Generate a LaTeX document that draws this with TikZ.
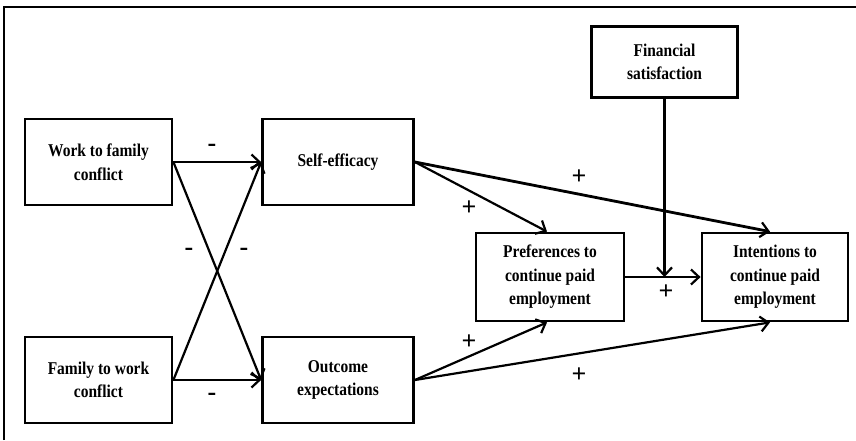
\documentclass[tikz,border=0pt]{standalone}
\usepackage{fontspec}
\setmainfont{Liberation Serif}
\newfontfamily\boxfont[FakeStretch=0.86]{Liberation Serif}
\usetikzlibrary{arrows.meta,calc}
\begin{document}
\begin{tikzpicture}[x=1pt,y=-1pt,
  box/.style={draw,line width=2.8pt,inner sep=0pt,align=center,font=\boxfont\fontsize{18}{23.5}\selectfont\bfseries},
  link/.style={line width=2.2pt,-{Straight Barb[length=8pt,width=15pt,line width=2.2pt]}},
  sign/.style={font=\fontsize{26}{26}\selectfont\bfseries,inner sep=0pt}]
\useasboundingbox (0,0) rectangle (856,440);
\coordinate (ftl) at (4,7);
\coordinate (ftr) at (856,7);
\coordinate (fbl) at (4,440);
\draw[line width=2.4pt] (fbl) -- (ftl) -- (ftr);
\node[box,minimum width=147pt,minimum height=86pt] (work) at (98.5,162) {Work to family\\conflict};
\node[box,minimum width=151pt,minimum height=86pt] (self) at (338,162) {Self-efficacy};
\node[box,minimum width=147pt,minimum height=86pt] (fam) at (98.5,380) {Family to work\\conflict};
\node[box,minimum width=151pt,minimum height=86pt] (out) at (338,380) {Outcome\\expectations};
\node[box,minimum width=146pt,minimum height=71pt] (fin) at (664.5,62) {Financial\\satisfaction};
\node[box,minimum width=148pt,minimum height=88pt] (pref) at (550,277) {Preferences to\\continue paid\\employment};
\node[box,minimum width=146pt,minimum height=88pt] (int) at (775,277) {Intentions to\\continue paid\\employment};
\draw[link] (work.east) -- (self.west);
\draw[link] (work.east) -- (out.west);
\draw[link] (fam.east) -- (self.west);
\draw[link] (fam.east) -- (out.west);
\draw[link] (self.east) -- ($(pref.north)+(-3,0)$);
\draw[link,line width=2.8pt] (self.east) -- ($(int.north)+(-5,0)$);
\draw[link] (out.east) -- ($(pref.south)+(-3,0)$);
\draw[link] (out.east) -- ($(int.south)+(-5,0)$);
\draw[link] (pref.east) -- (int.west);
\coordinate (mod) at (fin.south |- pref.east);
\draw[link] (fin.south) -- (mod);
\node[sign] (s1) at (212,148) {-};
\node[sign] (s2) at (212,397) {-};
\node[sign] (s3) at (189,252) {-};
\node[sign] (s4) at (244,252) {-};
\node[sign] (s5) at (469,208) {+};
\node[sign] (s6) at (579,177) {+};
\node[sign] (s7) at (469,342) {+};
\node[sign] (s8) at (579,375) {+};
\node[sign] (s9) at (666,292) {+};
\end{tikzpicture}
\end{document}
